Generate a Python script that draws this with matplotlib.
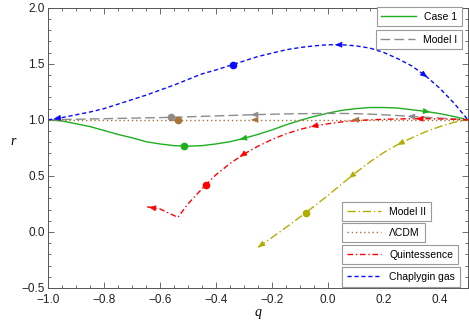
import numpy as np
import matplotlib
matplotlib.use("Agg")
import matplotlib.pyplot as plt
from matplotlib.ticker import MultipleLocator

# q grid shared by the curves that span the full range
q_full = [-1.0, -0.95, -0.9, -0.85, -0.8, -0.75, -0.7, -0.65, -0.6, -0.55,
          -0.5, -0.45, -0.4, -0.35, -0.3, -0.25, -0.2, -0.15, -0.1, -0.05,
          0.0, 0.05, 0.1, 0.15, 0.2, 0.25, 0.3, 0.35, 0.4, 0.45, 0.5]

r_case1 = [1.0, 0.99, 0.965, 0.94, 0.905, 0.87, 0.84, 0.805, 0.785, 0.77,
           0.765, 0.77, 0.785, 0.805, 0.835, 0.87, 0.91, 0.955, 0.995, 1.03,
           1.06, 1.085, 1.10, 1.11, 1.11, 1.105, 1.09, 1.075, 1.055, 1.03, 1.0]

r_model1 = [1.0, 1.003, 1.005, 1.008, 1.01, 1.013, 1.015, 1.018, 1.02, 1.023,
            1.027, 1.031, 1.035, 1.039, 1.043, 1.047, 1.05, 1.053, 1.055, 1.056,
            1.057, 1.057, 1.055, 1.051, 1.045, 1.038, 1.03, 1.023, 1.015, 1.008, 1.0]

r_chaplygin = [1.0, 1.02, 1.045, 1.07, 1.10, 1.14, 1.18, 1.22, 1.265, 1.31,
               1.36, 1.41, 1.445, 1.485, 1.525, 1.565, 1.595, 1.625, 1.645, 1.66,
               1.67, 1.67, 1.66, 1.64, 1.60, 1.545, 1.48, 1.39, 1.28, 1.15, 1.0]

q_lcdm = [-1.0, 0.5]
r_lcdm = [1.0, 1.0]

q_quint = [-0.646, -0.6, -0.57, -0.536, -0.5, -0.45, -0.4, -0.35, -0.3, -0.25,
           -0.2, -0.15, -0.1, -0.05, 0.0, 0.05, 0.1, 0.15, 0.2, 0.25,
           0.3, 0.35, 0.4, 0.45, 0.5]
r_quint = [0.224, 0.205, 0.17, 0.13, 0.25, 0.385, 0.51, 0.61, 0.695, 0.765,
           0.825, 0.875, 0.915, 0.945, 0.965, 0.982, 0.993, 1.0, 1.005, 1.008,
           1.01, 1.01, 1.008, 1.005, 1.0]

q_model2 = [-0.25, -0.2, -0.15, -0.1, -0.05, 0.0, 0.05, 0.1, 0.15, 0.2,
            0.25, 0.3, 0.35, 0.4, 0.45, 0.5]
r_model2 = [-0.137, -0.05, 0.04, 0.132, 0.228, 0.325, 0.43, 0.53, 0.625, 0.71,
            0.78, 0.84, 0.895, 0.94, 0.978, 1.0]

# marked points (filled dots)
dot_q = {"case1": -0.514, "model1": -0.56, "lcdm": -0.536, "quint": -0.436,
         "model2": -0.079, "chap": -0.34}
dot_r = {"case1": 0.765, "model1": 1.023, "lcdm": 1.0, "quint": 0.42,
         "model2": 0.171, "chap": 1.49}

# arrow heads along the curves: (q, direction)
arrows = {
    "case1": [(-0.30, -1), (0.35, 1)],
    "model1": [(-0.26, -1), (0.30, -1)],
    "lcdm": [(-0.26, -1), (0.10, -1)],
    "quint": [(0.33, -1), (-0.046, -1), (-0.30, -1), (-0.625, -1)],
    "model2": [(0.263, -1), (0.09, -1), (-0.235, -1)],
    "chap": [(-0.965, -1), (0.04, -1), (0.34, 1)],
}

GREEN = "#1fae1f"
GRAY = "#8c8c8c"
BROWN = "#a8743a"
RED = "#ff0000"
OLIVE = "#b3ad00"
BLUE = "#0a0aff"

series = [
    ("case1", "Case 1", q_full, r_case1, GREEN, "-"),
    ("model1", "Model I", q_full, r_model1, GRAY, (0, (7, 3))),
    ("model2", "Model II", q_model2, r_model2, OLIVE, (0, (6, 2, 1, 2))),
    ("lcdm", "\u039bCDM", q_lcdm, r_lcdm, BROWN, (0, (1, 2))),
    ("quint", "Quintessence", q_quint, r_quint, RED, (0, (4, 2, 1, 2))),
    ("chap", "Chaplygin gas", q_full, r_chaplygin, BLUE, (0, (3, 2))),
]

plt.rcParams["font.family"] = ["Liberation Sans", "DejaVu Sans"]

fig = plt.figure(figsize=(4.69, 3.27), dpi=100)
ax = fig.add_axes([0.1023, 0.1193, 0.8955, 0.857])

lines = {}
for key, label, qs, rs, color, ls in series:
    ln, = ax.plot(qs, rs, color=color, linestyle=ls, lw=1.0, label=label)
    lines[key] = ln
    ax.plot(dot_q[key], dot_r[key], "o", color=color, ms=4.5, mec=color)
    for q0, d in arrows[key]:
        r0 = np.interp(q0, qs, rs)
        q1 = q0 + 0.015 * d
        r1 = np.interp(q1, qs, rs)
        ax.annotate("", xy=(q1, r1), xytext=(q0, r0),
                    arrowprops=dict(arrowstyle="-|>,head_length=0.6,head_width=0.25",
                                    color=color, lw=0.6, shrinkA=0, shrinkB=0,
                                    mutation_scale=7))

ax.set_xlim(-1.0, 0.5)
ax.set_ylim(-0.5, 2.0)
ax.xaxis.set_major_locator(MultipleLocator(0.2))
ax.xaxis.set_minor_locator(MultipleLocator(0.05))
ax.yaxis.set_major_locator(MultipleLocator(0.5))
ax.yaxis.set_minor_locator(MultipleLocator(0.1))
ax.tick_params(which="both", direction="in", top=True, right=True,
               colors="#555555", labelcolor="#222222", labelsize=8.5, width=0.6)
ax.tick_params(which="major", length=4.5)
ax.tick_params(which="minor", length=2.5)
ax.tick_params(axis="x", which="major", pad=4)
ax.tick_params(axis="y", which="major", pad=2.5)
for sp in ax.spines.values():
    sp.set_color("#555555")
    sp.set_linewidth(0.7)

ax.set_xlabel("q", family="Liberation Serif", style="italic", fontsize=10)
ax.set_ylabel("r", family="Liberation Serif", style="italic", fontsize=10, rotation=0)
ax.xaxis.set_label_coords(0.5, -0.065)
ax.yaxis.set_label_coords(-0.083, 0.5)

# each legend entry sits in its own box
legend_spots = [
    ("case1", "upper right", (0.985, 0.979)),
    ("model1", "upper right", (0.985, 0.908)),
    ("model2", "upper left", (0.729, 0.382)),
    ("lcdm", "upper left", (0.729, 0.318)),
    ("quint", "upper left", (0.729, 0.251)),
    ("chap", "upper left", (0.729, 0.183)),
]
for key, loc, anchor in legend_spots:
    leg = ax.legend([lines[key]], [lines[key].get_label()], loc=loc,
                    bbox_to_anchor=anchor, bbox_transform=fig.transFigure,
                    fontsize=7.5, frameon=True, fancybox=False, framealpha=1,
                    edgecolor="#9a9a9a", handlelength=3.3, handletextpad=0.8,
                    borderpad=0.45, borderaxespad=0)
    leg.get_frame().set_linewidth(0.8)
    ax.add_artist(leg)

fig.savefig("out.png", dpi=100)
